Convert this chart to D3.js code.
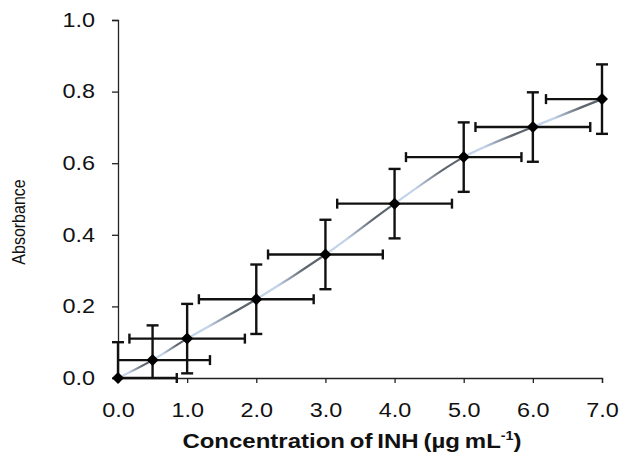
<!DOCTYPE html>
<html>
<head>
<meta charset="utf-8">
<script src="https://cdn.jsdelivr.net/npm/d3@7"></script>
<style>
  html, body { margin: 0; padding: 0; background: #fff; }
  svg { display: block; font-family: "Liberation Sans", Arial, sans-serif; }
</style>
</head>
<body>
<div id="chart"></div>
<script>
// data
const conc = [0, 0.5, 1, 2, 3, 4, 5, 6, 7];
const absorb = [0, 0.05, 0.11, 0.22, 0.345, 0.487, 0.617, 0.701, 0.779];
const concErr = [0.85, 0.83, 0.835, 0.83, 0.83, 0.83, 0.835, 0.83, 0.81];
const absErr = [0.1, 0.097, 0.097, 0.097, 0.097, 0.097, 0.097, 0.097, 0.097];
const xTicks = [0, 1, 2, 3, 4, 5, 6, 7];
const yTicks = [0, 0.2, 0.4, 0.6, 0.8, 1.0];

const width = 622, height = 464;
const stretch = 1.2; // text in the picture is a bit wider than normal

const svg = d3.select("#chart").append("svg")
    .attr("width", width)
    .attr("height", height);

const x = d3.scaleLinear().domain([0, 7]).range([118, 602]);
const y = d3.scaleLinear().domain([0, 1]).range([378, 20]);

const data = conc.map((c, i) => ({x: c, y: absorb[i], ex: concErr[i], ey: absErr[i]}));

// axes
const yAxis = svg.append("g")
    .attr("transform", `translate(${x(0)},0)`)
    .call(d3.axisLeft(y).tickValues(yTicks).tickFormat(d3.format(".1f")).tickSizeOuter(0).tickSize(6));
const xAxis = svg.append("g")
    .attr("transform", `translate(0,${y(0)})`)
    .call(d3.axisBottom(x).tickValues(xTicks).tickFormat(d3.format(".1f")).tickSizeOuter(0).tickSize(5));

[yAxis, xAxis].forEach(g => {
  g.select(".domain").attr("stroke", "#222").attr("stroke-width", 1.3);
  g.selectAll(".tick line").attr("stroke", "#222").attr("stroke-width", 1.3);
  g.selectAll(".tick text")
      .attr("fill", "#111")
      .attr("font-size", 19.5)
      .attr("font-family", "Liberation Sans, Arial, sans-serif");
});
yAxis.selectAll(".tick text")
    .attr("x", -23 / stretch)
    .attr("transform", `scale(${stretch},1)`);
xAxis.selectAll(".tick text")
    .attr("y", 25)
    .attr("transform", `scale(${stretch},1)`);

// smoothed line with grey / light blue shading
const defs = svg.append("defs");
const grad = defs.append("linearGradient")
    .attr("id", "lineGrad")
    .attr("gradientUnits", "userSpaceOnUse")
    .attr("x1", x(0)).attr("x2", x(7))
    .attr("y1", 0).attr("y2", 0);
const light = "#c3d3ea", dark = "#5d646d";
const off = v => (v / 7 * 100) + "%";
for (let i = 0; i < conc.length - 1; i++) {
  const a = conc[i], b = conc[i + 1], d = b - a;
  grad.append("stop").attr("offset", off(a)).attr("stop-color", light);
  grad.append("stop").attr("offset", off(a + d * 0.3)).attr("stop-color", light);
  grad.append("stop").attr("offset", off(a + d * 0.7)).attr("stop-color", dark);
  grad.append("stop").attr("offset", off(b - 0.001)).attr("stop-color", dark);
}

const line = d3.line()
    .x(d => x(d.x))
    .y(d => y(d.y))
    .curve(d3.curveCatmullRom.alpha(0.5));

svg.append("path")
    .datum(data)
    .attr("fill", "none")
    .attr("stroke", "url(#lineGrad)")
    .attr("stroke-width", 2.2)
    .attr("d", line);

// error bars, clipped to the plot area
const bars = svg.append("g")
    .attr("stroke", "#111")
    .attr("stroke-width", 2.4)
    .attr("fill", "none");
const capW = 6, capH = 5;

data.forEach(d => {
  // vertical
  const lo = Math.max(0, d.y - d.ey), hi = Math.min(1, d.y + d.ey);
  bars.append("line").attr("x1", x(d.x)).attr("x2", x(d.x)).attr("y1", y(lo)).attr("y2", y(hi));
  if (d.y + d.ey <= 1) bars.append("line").attr("x1", x(d.x) - capW).attr("x2", x(d.x) + capW).attr("y1", y(hi)).attr("y2", y(hi));
  if (d.y - d.ey >= 0) bars.append("line").attr("x1", x(d.x) - capW).attr("x2", x(d.x) + capW).attr("y1", y(lo)).attr("y2", y(lo));
  // horizontal
  const l = Math.max(0, d.x - d.ex), r = Math.min(7, d.x + d.ex);
  bars.append("line").attr("x1", x(l)).attr("x2", x(r)).attr("y1", y(d.y)).attr("y2", y(d.y));
  if (d.x - d.ex >= 0) bars.append("line").attr("x1", x(l)).attr("x2", x(l)).attr("y1", y(d.y) - capH).attr("y2", y(d.y) + capH);
  if (d.x + d.ex <= 7) bars.append("line").attr("x1", x(r)).attr("x2", x(r)).attr("y1", y(d.y) - capH).attr("y2", y(d.y) + capH);
});

// diamond markers
svg.append("g")
    .selectAll("path")
    .data(data)
    .join("path")
    .attr("transform", d => `translate(${x(d.x)},${y(d.y)}) rotate(45)`)
    .attr("d", d3.symbol(d3.symbolSquare, 72))
    .attr("fill", "#000");

// axis titles
svg.append("text")
    .attr("transform", `translate(25,222) scale(${stretch},1) rotate(-90)`)
    .attr("text-anchor", "middle")
    .attr("font-size", 16)
    .attr("fill", "#111")
    .text("Absorbance");

const xt = svg.append("text")
    .attr("transform", `translate(352,448) scale(${stretch},1)`)
    .attr("text-anchor", "middle")
    .attr("font-size", 20)
    .attr("font-weight", "bold")
    .attr("word-spacing", -1.5)
    .attr("fill", "#111");
xt.append("tspan").text("Concentration of INH (\u00b5g mL");
xt.append("tspan").attr("font-size", 12).attr("dy", -8).text("-1");
xt.append("tspan").attr("dy", 8).text(")");
</script>
</body>
</html>
